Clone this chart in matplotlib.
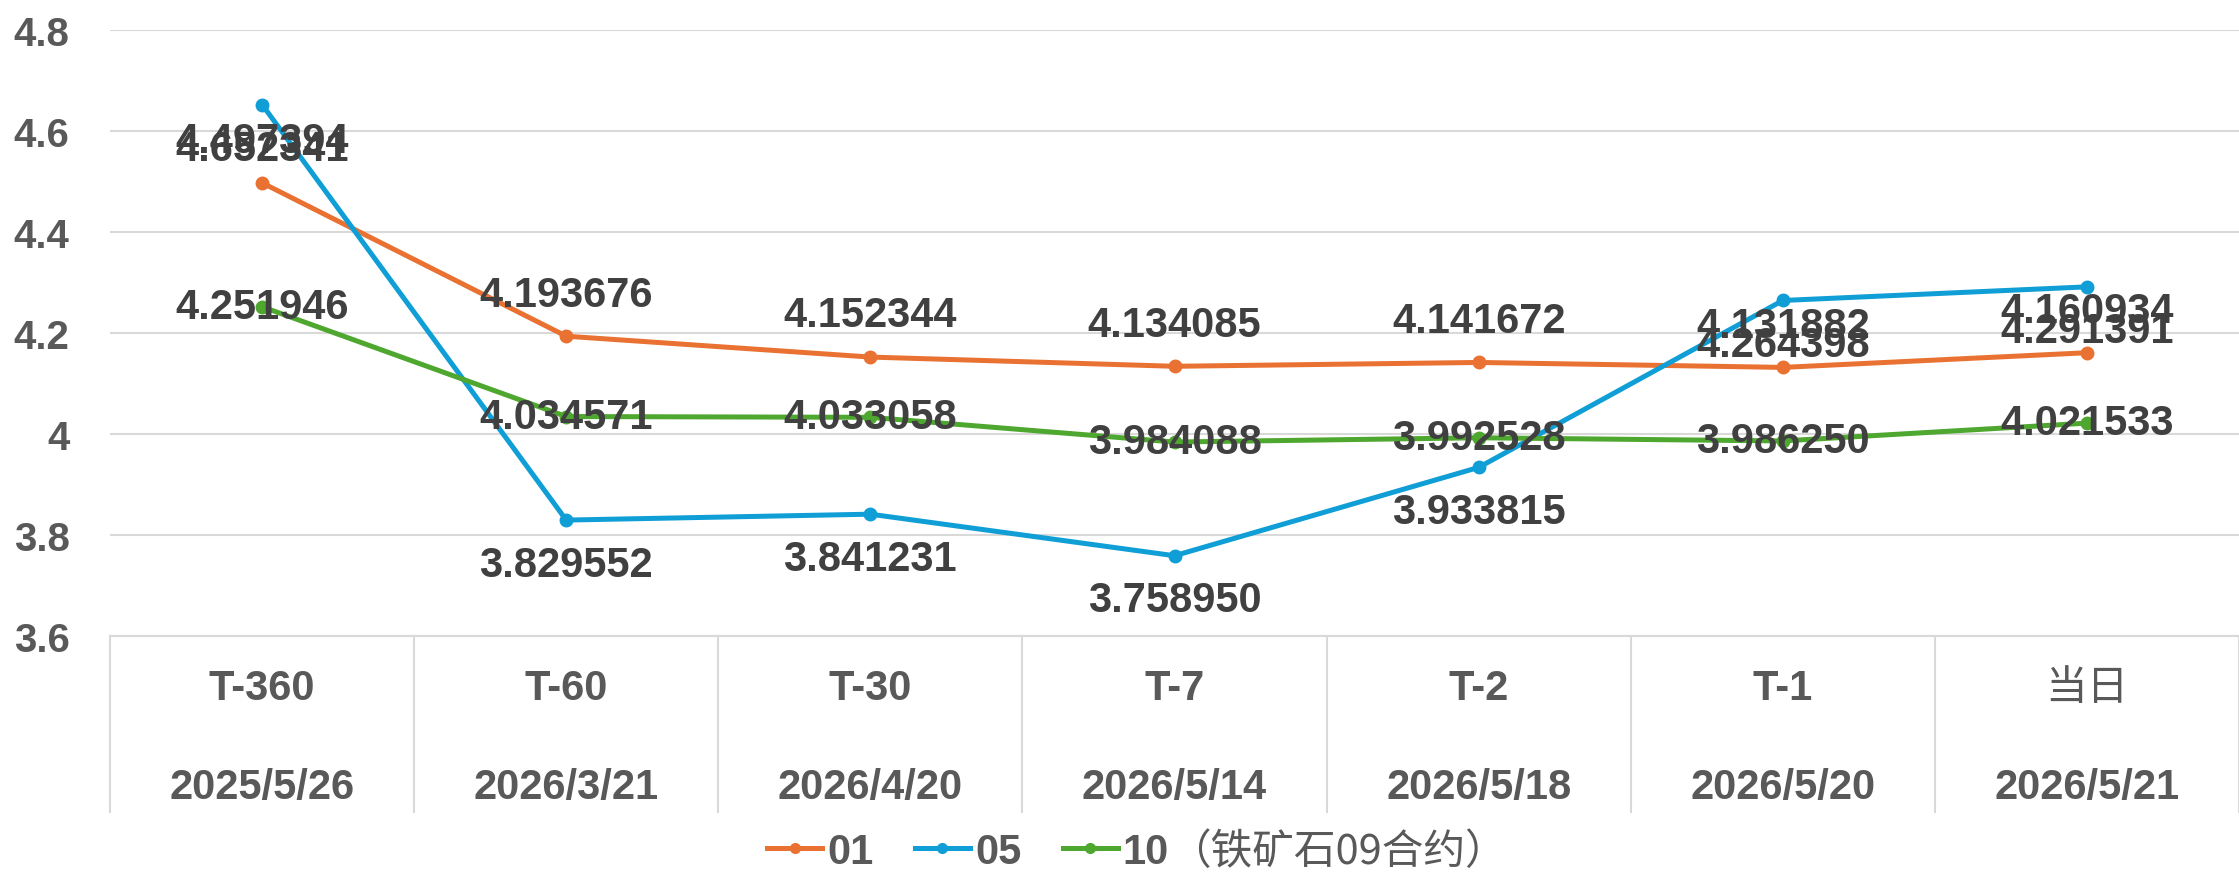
import numpy as np
import matplotlib.pyplot as plt
from matplotlib.ticker import FuncFormatter
import matplotlib.transforms as mtransforms

periods = ['T-360', 'T-60', 'T-30', 'T-7', 'T-2', 'T-1', '当日']
dates = ['2025/5/26', '2026/3/21', '2026/4/20', '2026/5/14', '2026/5/18', '2026/5/20', '2026/5/21']
s01 = [4.497394, 4.193676, 4.152344, 4.134085, 4.141672, 4.131882, 4.160934]
s05 = [4.652341, 3.829552, 3.841231, 3.758950, 3.933815, 4.264398, 4.291391]
s10 = [4.251946, 4.034571, 4.033058, 3.984088, 3.992528, 3.986250, 4.021533]
names = ['01', '05', '10']
legend_tail = '（铁矿石09合约）'

colors = ['#E97132', '#0F9ED5', '#4EA72E']
offsets = [30, -32, 0]   # label offset in points: above / below / centered
tick_c = '#595959'
lab_c = '#404040'
grid_c = '#D9D9D9'
latin = 'Liberation Sans'
cjk = 'Noto Sans CJK SC'

fig = plt.figure(figsize=(22.39, 8.78), dpi=100)
ax = fig.add_axes([110/2239, 1-637/878, 1-110/2239, (637-31)/878])

x = np.arange(len(periods))
for ys, c, name, off in zip([s01, s05, s10], colors, names, offsets):
    ax.plot(x, ys, color=c, lw=3.6, marker='o', ms=9, label=name, clip_on=False, zorder=3)
    for xi, yi in zip(x, ys):
        ax.annotate('%.6f' % yi, (xi, yi), xytext=(0, off), textcoords='offset points',
                    ha='center', va='center', fontsize=30, fontweight='bold',
                    family=latin, color=lab_c, zorder=4)

ax.set_xlim(-0.5, len(periods)-0.5)
ax.set_ylim(3.6, 4.8)
ax.set_yticks(np.arange(3.6, 4.81, 0.2))
ax.yaxis.set_major_formatter(FuncFormatter(lambda v, p: '%g' % round(v, 1)))
ax.grid(axis='y', color=grid_c, lw=1.5)
ax.set_axisbelow(True)
for s in ['top', 'right', 'left']:
    ax.spines[s].set_visible(False)
ax.spines['bottom'].set_color(grid_c)
ax.spines['bottom'].set_linewidth(1.5)
ax.tick_params(axis='y', length=0, pad=29, labelsize=29, labelcolor=tick_c)
for t in ax.get_yticklabels():
    t.set_fontweight('bold')
    t.set_family(latin)
ax.set_xticks([])

# category table under the axis
trans = mtransforms.blended_transform_factory(ax.transData, ax.transAxes)
for b in np.arange(-0.5, len(periods), 1.0):
    ax.plot([b, b], [0, -0.29], color=grid_c, lw=1.5, transform=trans, clip_on=False)
for xi, p, d in zip(x, periods, dates):
    if p.isascii():
        ax.text(xi, -0.085, p, transform=trans, ha='center', va='center', fontsize=30,
                fontweight='bold', family=latin, color=tick_c)
    else:
        ax.text(xi, -0.085, p, transform=trans, ha='center', va='center', fontsize=30,
                family=cjk, color=tick_c)
    ax.text(xi, -0.25, d, transform=trans, ha='center', va='center', fontsize=30,
            fontweight='bold', family=latin, color=tick_c)

leg = fig.legend(loc='center left', bbox_to_anchor=(767/2239, 1-853/878), ncol=3,
                 frameon=False, borderpad=0, borderaxespad=0, handlelength=1.32,
                 handletextpad=0.12, columnspacing=1.0,
                 prop={'family': latin, 'weight': 'bold', 'size': 30})
for t in leg.get_texts():
    t.set_color(tick_c)
for h in leg.legend_handles:
    h.set_markersize(7)

fig.canvas.draw()
bb = leg.get_texts()[2].get_window_extent()
fig.text(bb.x1/fig.bbox.width, (bb.y0+bb.y1)/2/fig.bbox.height, legend_tail,
         ha='left', va='center', fontsize=30, family=[cjk, latin], color=tick_c)

fig.savefig('out.png', dpi=100)
